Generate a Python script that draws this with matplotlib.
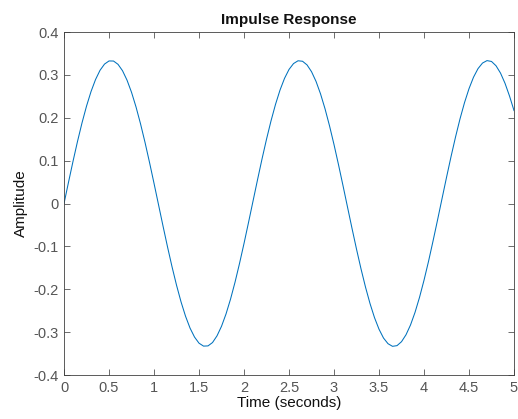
import matplotlib
matplotlib.use('Agg')
import matplotlib.pyplot as plt
import numpy as np

t_step = 0.05
amplitude = [
    0.0000, 0.0498, 0.0985, 0.1450, 0.1882, 0.2272, 0.2611, 0.2891, 0.3107, 0.3252,
    0.3325, 0.3323, 0.3246, 0.3097, 0.2877, 0.2594, 0.2252, 0.1859, 0.1425, 0.0958,
    0.0470, -0.0028, -0.0526, -0.1012, -0.1475, -0.1905, -0.2293, -0.2628, -0.2905, -0.3115,
    -0.3258, -0.3326, -0.3321, -0.3243, -0.3086, -0.2863, -0.2576, -0.2231, -0.1836, -0.1398,
    -0.0931, -0.0442, 0.0056, 0.0553, 0.1039, 0.1500, 0.1928, 0.2313, 0.2646, 0.2919,
    0.3127, 0.3264, 0.3329, 0.3318, 0.3233, 0.3075, 0.2849, 0.2558, 0.2210, 0.1812,
    0.1374, 0.0904, 0.0415, -0.0084, -0.0581, -0.1065, -0.1525, -0.1951, -0.2333, -0.2663,
    -0.2932, -0.3138, -0.3270, -0.3331, -0.3315, -0.3223, -0.3061, -0.2833, -0.2540, -0.2189,
    -0.1789, -0.1350, -0.0877, -0.0388, 0.0112, 0.0609, 0.1092, 0.1550, 0.1974, 0.2353,
    0.2679, 0.2946, 0.3146, 0.3276, 0.3333, 0.3313, 0.3213, 0.3042, 0.2804, 0.2507,
    0.2168,
]
time = np.arange(len(amplitude)) * t_step

x_ticks = [0, 0.5, 1, 1.5, 2, 2.5, 3, 3.5, 4, 4.5, 5]
x_labels = ['0', '0.5', '1', '1.5', '2', '2.5', '3', '3.5', '4', '4.5', '5']
y_ticks = [-0.4, -0.3, -0.2, -0.1, 0, 0.1, 0.2, 0.3, 0.4]
y_labels = ['-0.4', '-0.3', '-0.2', '-0.1', '0', '0.1', '0.2', '0.3', '0.4']

plt.rcParams['font.family'] = ['Liberation Sans', 'DejaVu Sans']

fig = plt.figure(figsize=(5.18, 4.19), dpi=100)
ax = fig.add_axes([0.1236, 0.105, 0.8687, 0.8186])

ax.plot(time, amplitude, color='#0072BD', linewidth=0.75)

ax.set_xlim(0, 5)
ax.set_ylim(-0.4, 0.4)
ax.set_xticks(x_ticks)
ax.set_xticklabels(x_labels)
ax.set_yticks(y_ticks)
ax.set_yticklabels(y_labels)

ax.tick_params(direction='in', top=True, right=True, length=4, width=0.6,
               colors='#555555', labelsize=10.5, pad=4)
for s in ax.spines.values():
    s.set_linewidth(0.6)
    s.set_color('#404040')

ax.set_xlabel('Time (seconds)', fontsize=11, color='#111111', labelpad=1)
ax.set_ylabel('Amplitude', fontsize=11, color='#111111', labelpad=4)
ax.set_title('Impulse Response', fontsize=11, fontweight='bold', color='#111111', pad=6)

fig.savefig('out.png', dpi=100)
